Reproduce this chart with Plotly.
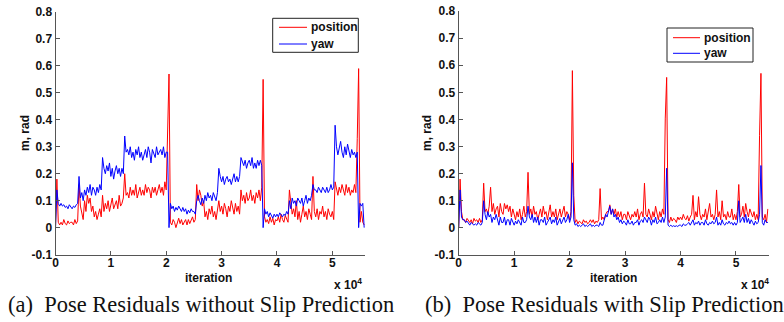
import plotly.graph_objects as go

# ---------------- data ----------------
iteration = list(range(0, 56000, 250))  # 224 samples

pos_a = [
    0.0, 0.18, 0.02, 0.01,   0.02, 0.01, 0.03, 0.015,   0.01, 0.025, 0.015, 0.02,   0.02, 0.01, 0.03, 0.015,
    0.025, 0.16, 0.08, 0.05,   0.03, 0.1, 0.06, 0.12,   0.09, 0.11, 0.06, 0.08,   0.04, 0.06, 0.03, 0.05,
    0.07, 0.04, 0.12, 0.06,   0.09, 0.07, 0.1, 0.06,   0.08, 0.11, 0.07, 0.09,   0.1, 0.07, 0.12, 0.08,
    0.09, 0.11, 0.2, 0.12,   0.13, 0.11, 0.15, 0.12,   0.14, 0.12, 0.16, 0.11,   0.13, 0.15, 0.12, 0.14,
    0.12, 0.16, 0.13, 0.15,   0.14, 0.11, 0.15, 0.13,   0.15, 0.12, 0.14, 0.16,   0.13, 0.15, 0.12, 0.17,
    0.14, 0.32, 0.57, 0.02,   0.01, 0.03, 0.02, 0.0,   0.02, 0.035, 0.015, 0.03,   0.01, 0.02, 0.03, 0.01,
    0.03, 0.015, 0.025, 0.04,   0.02, 0.03, 0.16, 0.1,   0.14, 0.12, 0.08, 0.1,   0.04, 0.06, 0.03, 0.07,
    0.05, 0.08, 0.04, 0.06,   0.03, 0.07, 0.1, 0.06,   0.08, 0.05, 0.09, 0.07,   0.04, 0.08, 0.06, 0.1,
    0.07, 0.05, 0.09, 0.06,   0.08, 0.05, 0.14, 0.1,   0.12, 0.09, 0.13, 0.1,   0.11, 0.14, 0.1, 0.12,
    0.09, 0.13, 0.11, 0.14,   0.1, 0.15, 0.55, 0.04,   0.02, 0.03, 0.015, 0.04,   0.02, 0.035, 0.01, 0.03,
    0.025, 0.04, 0.02, 0.05,   0.03, 0.02, 0.045, 0.03,   0.02, 0.14, 0.08, 0.05,   0.07, 0.04, 0.1, 0.03,
    0.06, 0.02, 0.05, 0.08,   0.04, 0.06, 0.03, 0.07,   0.05, 0.03, 0.19, 0.06,   0.04, 0.07, 0.03, 0.06,
    0.05, 0.08, 0.04, 0.06,   0.03, 0.07, 0.05, 0.04,   0.06, 0.03, 0.17, 0.14,   0.12, 0.15, 0.13, 0.16,
    0.14, 0.12, 0.16, 0.13,   0.15, 0.12, 0.14, 0.13,   0.16, 0.13, 0.33, 0.59,   0.02, 0.06, 0.02, 0.01,
]

yaw_a = [
    0.0, 0.14, 0.09, 0.08,   0.09, 0.08, 0.085, 0.075,   0.08, 0.07, 0.085, 0.075,   0.07, 0.08, 0.075, 0.085,
    0.09, 0.19, 0.11, 0.13,   0.1, 0.14, 0.12, 0.15,   0.13, 0.16, 0.12, 0.15,   0.14, 0.12, 0.15, 0.13,
    0.16, 0.14, 0.26, 0.22,   0.2, 0.23, 0.21, 0.24,   0.19, 0.22, 0.18, 0.21,   0.23, 0.2, 0.22, 0.19,
    0.22, 0.2, 0.34, 0.28,   0.29, 0.27, 0.3, 0.26,   0.28, 0.25, 0.29, 0.27,   0.3, 0.26, 0.28, 0.25,
    0.27, 0.29, 0.26, 0.3,   0.28, 0.24, 0.29, 0.27,   0.26, 0.3, 0.27, 0.28,   0.29, 0.27, 0.3, 0.26,
    0.28, 0.28, 0.0, 0.09,   0.07, 0.08, 0.06, 0.075,   0.065, 0.08, 0.07, 0.06,   0.075, 0.06, 0.07, 0.05,
    0.065, 0.055, 0.07, 0.06,   0.06, 0.05, 0.1, 0.12,   0.1, 0.085, 0.11, 0.09,   0.12, 0.1, 0.13, 0.11,
    0.12, 0.1, 0.13, 0.11,   0.1, 0.13, 0.22, 0.19,   0.17, 0.19, 0.16, 0.18,   0.19, 0.17, 0.18, 0.16,
    0.18, 0.2, 0.17, 0.19,   0.17, 0.19, 0.26, 0.24,   0.23, 0.25, 0.22, 0.24,   0.25, 0.23, 0.26, 0.22,
    0.24, 0.22, 0.25, 0.23,   0.25, 0.23, 0.0, 0.07,   0.05, 0.06, 0.04, 0.055,   0.045, 0.035, 0.05, 0.04,
    0.05, 0.04, 0.055, 0.045,   0.04, 0.05, 0.045, 0.06,   0.05, 0.1, 0.07, 0.11,   0.09, 0.1, 0.08, 0.11,
    0.1, 0.09, 0.11, 0.08,   0.1, 0.12, 0.09, 0.11,   0.1, 0.12, 0.16, 0.14,   0.14, 0.13, 0.15, 0.14,
    0.13, 0.15, 0.14, 0.13,   0.15, 0.13, 0.14, 0.16,   0.14, 0.15, 0.38, 0.3,   0.27, 0.29, 0.32, 0.28,
    0.26, 0.3, 0.27, 0.31,   0.28, 0.26, 0.29, 0.27,   0.28, 0.26, 0.28, 0.0,   0.09, 0.08, 0.09, 0.0,
]

pos_b = [
    0.0, 0.18, 0.06, 0.03,   0.03, 0.02, 0.035, 0.025,   0.02, 0.03, 0.015, 0.035,   0.025, 0.03, 0.02, 0.035,
    0.02, 0.03, 0.165, 0.06,   0.07, 0.05, 0.08, 0.15,   0.06, 0.09, 0.05, 0.07,   0.08, 0.04, 0.09, 0.06,
    0.05, 0.09, 0.07, 0.085,   0.06, 0.08, 0.04, 0.07,   0.05, 0.03, 0.06, 0.04,   0.07, 0.03, 0.05, 0.08,
    0.04, 0.06, 0.205, 0.05,   0.07, 0.04, 0.08, 0.05,   0.06, 0.03, 0.05, 0.07,   0.04, 0.08, 0.05, 0.06,
    0.03, 0.06, 0.085, 0.04,   0.06, 0.04, 0.07, 0.03,   0.05, 0.07, 0.04, 0.06,   0.08, 0.04, 0.06, 0.05,
    0.03, 0.06, 0.58, 0.12,   0.02, 0.03, 0.015, 0.025,   0.02, 0.015, 0.03, 0.02,   0.025, 0.015, 0.02, 0.03,
    0.02, 0.03, 0.015, 0.025,   0.02, 0.03, 0.145, 0.03,   0.04, 0.03, 0.05, 0.06,   0.06, 0.085, 0.05, 0.07,
    0.05, 0.07, 0.04, 0.06,   0.04, 0.06, 0.03, 0.05,   0.05, 0.03, 0.06, 0.04,   0.03, 0.05, 0.04, 0.06,
    0.04, 0.07, 0.03, 0.05,   0.06, 0.04, 0.165, 0.05,   0.04, 0.07, 0.05, 0.03,   0.06, 0.04, 0.08, 0.05,
    0.03, 0.06, 0.04, 0.07,   0.05, 0.405, 0.555, 0.03,   0.02, 0.04, 0.025, 0.035,   0.03, 0.02, 0.04, 0.03,
    0.04, 0.03, 0.05, 0.035,   0.03, 0.045, 0.025, 0.04,   0.05, 0.12, 0.03, 0.06,   0.04, 0.115, 0.05, 0.03,
    0.05, 0.04, 0.07, 0.03,   0.06, 0.09, 0.04, 0.05,   0.03, 0.05, 0.14, 0.04,   0.06, 0.03, 0.1, 0.04,
    0.05, 0.03, 0.06, 0.04,   0.04, 0.07, 0.03, 0.05,   0.03, 0.06, 0.16, 0.04,   0.05, 0.08, 0.04, 0.09,
    0.06, 0.04, 0.07, 0.05,   0.04, 0.06, 0.03, 0.05,   0.03, 0.34, 0.57, 0.04,   0.03, 0.05, 0.02, 0.07,
]

yaw_b = [
    0.0, 0.14, 0.04, 0.03,   0.03, 0.02, 0.025, 0.015,   0.01, 0.02, 0.015, 0.01,   0.015, 0.01, 0.02, 0.015,
    0.01, 0.02, 0.1, 0.05,   0.03, 0.06, 0.04, 0.05,   0.02, 0.04, 0.03, 0.05,   0.03, 0.01, 0.04, 0.02,
    0.02, 0.04, 0.01, 0.03,   0.03, 0.01, 0.035, 0.02,   0.01, 0.025, 0.015, 0.03,   0.02, 0.01, 0.04, 0.02,
    0.02, 0.03, 0.08, 0.04,   0.03, 0.05, 0.02, 0.04,   0.02, 0.04, 0.01, 0.03,   0.03, 0.02, 0.04, 0.01,
    0.02, 0.03, 0.04, 0.015,   0.03, 0.02, 0.04, 0.01,   0.02, 0.035, 0.015, 0.03,   0.04, 0.02, 0.03, 0.05,
    0.02, 0.04, 0.24, 0.03,   0.01, 0.015, 0.005, 0.01,   0.005, 0.01, 0.015, 0.005,   0.01, 0.005, 0.01, 0.015,
    0.005, 0.01, 0.005, 0.01,   0.01, 0.005, 0.02, 0.01,   0.01, 0.03, 0.05, 0.04,   0.06, 0.08, 0.05, 0.07,
    0.04, 0.05, 0.03, 0.04,   0.02, 0.03, 0.015, 0.025,   0.02, 0.01, 0.03, 0.015,   0.015, 0.025, 0.01, 0.02,
    0.02, 0.03, 0.01, 0.025,   0.03, 0.02, 0.04, 0.03,   0.02, 0.04, 0.03, 0.01,   0.03, 0.02, 0.04, 0.015,
    0.02, 0.03, 0.02, 0.04,   0.02, 0.04, 0.22, 0.01,   0.005, 0.01, 0.005, 0.008,   0.005, 0.008, 0.005, 0.01,
    0.01, 0.005, 0.015, 0.01,   0.01, 0.015, 0.02, 0.01,   0.02, 0.03, 0.01, 0.02,   0.015, 0.025, 0.01, 0.02,
    0.02, 0.01, 0.03, 0.015,   0.01, 0.02, 0.015, 0.025,   0.015, 0.02, 0.04, 0.01,   0.02, 0.01, 0.03, 0.015,
    0.01, 0.02, 0.015, 0.025,   0.015, 0.02, 0.01, 0.02,   0.01, 0.02, 0.1, 0.02,   0.03, 0.04, 0.02, 0.05,
    0.02, 0.035, 0.015, 0.03,   0.02, 0.01, 0.025, 0.015,   0.02, 0.05, 0.23, 0.02,   0.01, 0.03, 0.02, 0.02,
]

y_tickvals = [-0.1, 0.0, 0.1, 0.2, 0.3, 0.4, 0.5, 0.6, 0.7, 0.8]
y_ticktext = ["-0.1", "0", "0.1", "0.2", "0.3", "0.4", "0.5", "0.6", "0.7", "0.8"]
x_tickvals = [0, 10000, 20000, 30000, 40000, 50000]
x_ticktext = ["0", "1", "2", "3", "4", "5"]
series_names = ["position", "yaw"]
captions = ["(a)\u00a0\u00a0Pose Residuals without Slip Prediction",
            "(b)\u00a0\u00a0Pose Residuals with Slip Prediction"]

RED = "#ff0000"
BLUE = "#0000ff"
W, H = 784, 322

fig = go.Figure()
fig.add_trace(go.Scatter(x=iteration, y=pos_a, mode="lines", name=series_names[0],
                         line=dict(color=RED, width=1), xaxis="x", yaxis="y"))
fig.add_trace(go.Scatter(x=iteration, y=yaw_a, mode="lines", name=series_names[1],
                         line=dict(color=BLUE, width=1), xaxis="x", yaxis="y"))
fig.add_trace(go.Scatter(x=iteration, y=pos_b, mode="lines", name=series_names[0],
                         line=dict(color=RED, width=1), xaxis="x2", yaxis="y2"))
fig.add_trace(go.Scatter(x=iteration, y=yaw_b, mode="lines", name=series_names[1],
                         line=dict(color=BLUE, width=1), xaxis="x2", yaxis="y2"))

tickfont = dict(family="Arial, Liberation Sans", size=12, color="#111", weight="bold")
axcol = "#555"

def xax(domain, anchor):
    return dict(domain=domain, anchor=anchor, range=[0, 55900], tickvals=x_tickvals, ticktext=x_ticktext,
                showline=True, linecolor=axcol, linewidth=1, ticks="inside", ticklen=4, tickcolor=axcol,
                showgrid=False, zeroline=False, tickfont=tickfont, mirror=False, automargin=False,
                ticklabelstandoff=-3)

def yax(domain, anchor):
    return dict(domain=domain, anchor=anchor, range=[-0.1, 0.8], tickvals=y_tickvals, ticktext=y_ticktext,
                showline=True, linecolor=axcol, linewidth=1, ticks="inside", ticklen=4, tickcolor=axcol,
                showgrid=False, zeroline=False, tickfont=tickfont, mirror=False, automargin=False)

lfont = dict(family="Arial, Liberation Sans", size=12, color="#111", weight="bold")

fig.update_layout(
    width=W, height=H, margin=dict(l=0, r=0, t=0, b=0, autoexpand=False),
    paper_bgcolor="white", plot_bgcolor="white",
    xaxis=xax([55.5 / W, 365 / W], "y"),
    yaxis=yax([1 - 254.6 / H, 1 - 12 / H], "x"),
    xaxis2=xax([458.7 / W, 768.7 / W], "y2"),
    yaxis2=yax([1 - 255 / H, 1 - 11 / H], "x2"),
    showlegend=False,
)

# manual legends (box, line samples, labels) in paper pixels
shapes = []
ann = []
legends = [
    dict(box=(272.7, 18.3, 358.3, 52.3), lx=(279, 307), ys=(27.3, 44.0), tx=309),
    dict(box=(667, 28, 753, 62), lx=(673, 700), ys=(37.7, 53.3), tx=702),
]
for lg in legends:
    x0, y0, x1, y1 = lg["box"]
    shapes.append(dict(type="rect", xref="paper", yref="paper", x0=x0 / W, x1=x1 / W,
                       y0=1 - y1 / H, y1=1 - y0 / H, line=dict(color="#222", width=1),
                       fillcolor="white", layer="above"))
    for name, col, yy in zip(series_names, [RED, BLUE], lg["ys"]):
        shapes.append(dict(type="line", xref="paper", yref="paper", x0=lg["lx"][0] / W, x1=lg["lx"][1] / W,
                           y0=1 - yy / H, y1=1 - yy / H, line=dict(color=col, width=1), layer="above"))
        ann.append(dict(x=lg["tx"] / W, y=1 - yy / H, xref="paper", yref="paper", text=name,
                        showarrow=False, font=lfont, xanchor="left", yanchor="middle"))

for cx in [25, 427]:
    ann.append(dict(x=cx / W, y=1 - 133 / H, xref="paper", yref="paper", text="m, rad", textangle=-90,
                    showarrow=False, font=lfont, xanchor="center", yanchor="middle"))
for cx in [208, 613.7]:
    ann.append(dict(x=cx / W, y=1 - 277.5 / H, xref="paper", yref="paper", text="iteration",
                    showarrow=False, font=lfont, xanchor="center", yanchor="middle"))
for rx in [364, 771]:
    ann.append(dict(x=rx / W, y=1 - 284 / H, xref="paper", yref="paper", text="x 10<sup>4</sup>",
                    showarrow=False, font=lfont, xanchor="right", yanchor="middle"))
cap_font = dict(family="Liberation Serif, Times New Roman, serif", size=22.5, color="#111")
ann.append(dict(x=6 / W, y=1 - 304 / H, xref="paper", yref="paper", text=captions[0],
                showarrow=False, font=cap_font, xanchor="left", yanchor="middle"))
ann.append(dict(x=423 / W, y=1 - 304 / H, xref="paper", yref="paper", text=captions[1],
                showarrow=False, font=cap_font, xanchor="left", yanchor="middle"))
fig.update_layout(annotations=ann, shapes=shapes)

fig.write_html("out.html", config={"displayModeBar": False},
               post_script="document.body.style.margin='0';document.body.style.overflow='hidden';")
